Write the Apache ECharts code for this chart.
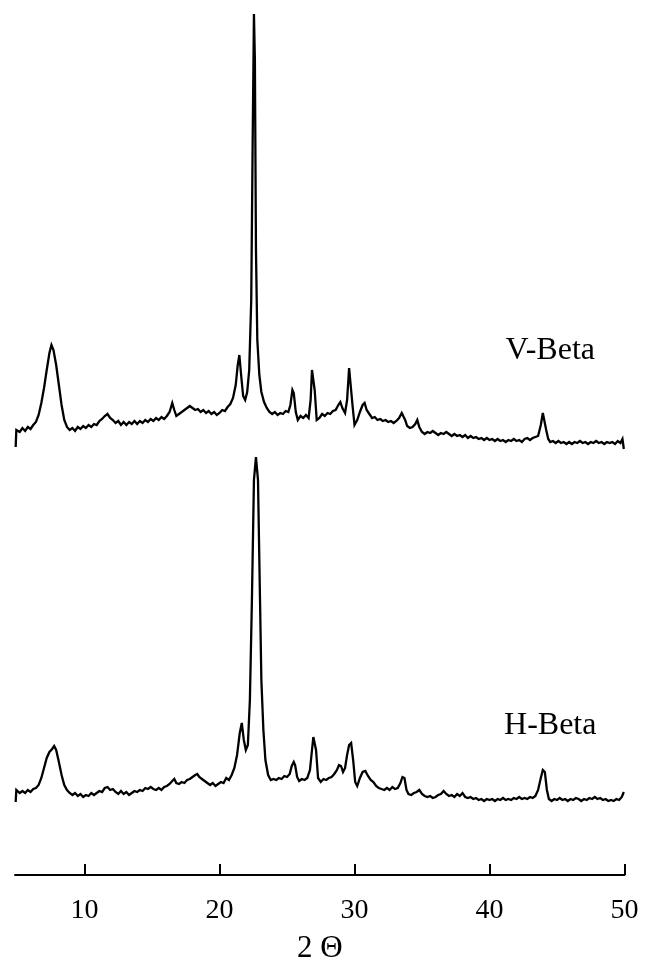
<!DOCTYPE html>
<html>
<head>
<meta charset="utf-8">
<style>
  html, body { margin: 0; padding: 0; background: #fff; }
  #chart { width: 645px; height: 965px; }
</style>
<script src="https://cdn.jsdelivr.net/npm/echarts@6/dist/echarts.min.js"></script>
</head>
<body>
<div id="chart"></div>
<script>
// X-ray diffraction patterns, [2θ (deg), intensity (a.u.)]
const vBeta = [
  [4.9,3],[4.95,20],[5.2,18],[5.4,22],[5.6,19],[5.8,23],[6.0,21],[6.2,25],[6.4,28],[6.6,35],
  [6.8,47],[7.0,62],[7.2,80],[7.4,97],[7.55,105],[7.7,100],[7.9,85],[8.1,65],[8.3,45],[8.5,30],
  [8.7,23],[8.9,20],[9.1,22],[9.3,19],[9.5,23],[9.7,21],[9.9,24],[10.1,22],[10.3,25],[10.5,23],
  [10.7,26],[10.9,25],[11.1,29],[11.3,31],[11.5,34],[11.7,36],[11.9,32],[12.1,30],[12.3,27],[12.5,29],
  [12.7,25],[12.9,28],[13.1,25],[13.3,28],[13.5,26],[13.7,29],[13.9,26],[14.1,29],[14.3,27],[14.5,30],
  [14.7,28],[14.9,31],[15.1,29],[15.3,32],[15.5,30],[15.7,33],[15.9,31],[16.1,34],[16.3,38],[16.5,47],
  [16.65,40],[16.8,34],[17.0,36],[17.2,38],[17.4,40],[17.6,42],[17.8,44],[18.0,42],[18.2,40],[18.4,41],
  [18.6,38],[18.8,40],[19.0,37],[19.2,39],[19.4,36],[19.6,38],[19.8,35],[20.0,37],[20.2,40],[20.4,39],
  [20.6,43],[20.8,46],[21.0,52],[21.2,65],[21.35,85],[21.47,95],[21.6,75],[21.75,54],[21.9,50],[22.05,58],
  [22.2,80],[22.35,150],[22.45,300],[22.55,436],[22.62,390],[22.7,200],[22.8,110],[22.95,75],[23.1,58],[23.3,48],
  [23.5,42],[23.7,38],[23.9,36],[24.1,38],[24.3,35],[24.5,37],[24.7,36],[24.9,39],[25.1,38],[25.25,45],
  [25.4,60],[25.5,57],[25.65,38],[25.8,30],[26.0,34],[26.2,32],[26.4,35],[26.6,32],[26.75,50],[26.85,80],
  [26.95,82],[27.05,60],[27.2,30],[27.4,32],[27.6,36],[27.8,34],[28.0,37],[28.2,36],[28.4,39],[28.6,40],
  [28.8,45],[28.95,48],[29.1,42],[29.3,37],[29.45,50],[29.6,82],[29.7,80],[29.85,45],[30.0,25],[30.2,30],
  [30.4,38],[30.6,45],[30.75,47],[30.9,40],[31.1,36],[31.3,32],[31.5,33],[31.7,30],[31.9,31],[32.1,29],
  [32.3,30],[32.5,28],[32.7,29],[32.9,27],[33.1,29],[33.3,32],[33.5,37],[33.6,38],[33.75,30],[33.9,24],
  [34.1,22],[34.3,23],[34.5,26],[34.65,30],[34.8,23],[35.0,18],[35.2,16],[35.4,18],[35.6,17],[35.8,19],
  [36.0,17],[36.2,15],[36.4,17],[36.6,16],[36.8,18],[37.0,16],[37.2,14],[37.4,16],[37.6,14],[37.8,15],
  [38.0,13],[38.2,15],[38.4,12],[38.6,14],[38.8,12],[39.0,13],[39.2,11],[39.4,12],[39.6,10],[39.8,12],
  [40.0,10],[40.2,11],[40.4,9],[40.6,11],[40.8,9],[41.0,10],[41.2,8],[41.4,10],[41.6,9],[41.8,11],
  [42.0,9],[42.2,10],[42.4,8],[42.6,11],[42.8,12],[43.0,10],[43.2,12],[43.4,13],[43.6,14],[43.8,25],
  [43.95,37],[44.05,35],[44.2,20],[44.35,11],[44.5,8],[44.7,9],[44.9,7],[45.1,9],[45.3,7],[45.5,8],
  [45.7,6],[45.9,8],[46.1,6],[46.3,8],[46.5,7],[46.7,9],[46.9,7],[47.1,8],[47.3,6],[47.5,8],
  [47.7,7],[47.9,9],[48.1,7],[48.3,8],[48.5,6],[48.7,8],[48.9,7],[49.1,8],[49.3,6],[49.5,9],
  [49.7,7],[49.85,11],[49.95,1]
];

const hBeta = [
  [4.9,13],[4.95,25],[5.2,22],[5.4,24],[5.6,22],[5.8,25],[6.0,23],[6.2,26],[6.4,27],[6.6,30],
  [6.8,37],[7.0,47],[7.2,57],[7.4,63],[7.6,66],[7.75,69],[7.9,65],[8.1,53],[8.3,40],[8.5,30],
  [8.7,25],[8.9,22],[9.1,20],[9.3,22],[9.5,19],[9.7,21],[9.9,18],[10.1,20],[10.3,19],[10.5,22],
  [10.7,20],[10.9,22],[11.1,24],[11.3,23],[11.5,27],[11.7,28],[11.9,25],[12.1,26],[12.3,23],[12.5,21],
  [12.7,24],[12.9,21],[13.1,23],[13.3,20],[13.5,22],[13.7,24],[13.9,23],[14.1,25],[14.3,24],[14.5,27],
  [14.7,26],[14.9,28],[15.1,26],[15.3,25],[15.5,27],[15.7,25],[15.9,28],[16.1,29],[16.3,31],[16.5,34],
  [16.65,36],[16.8,32],[17.0,31],[17.2,33],[17.4,32],[17.6,35],[17.8,36],[18.0,38],[18.2,40],[18.35,41],
  [18.5,38],[18.7,36],[18.9,34],[19.1,32],[19.3,30],[19.5,32],[19.7,29],[19.9,31],[20.1,33],[20.3,32],
  [20.5,37],[20.7,35],[20.9,40],[21.1,47],[21.3,60],[21.5,82],[21.65,92],[21.8,75],[21.95,65],[22.1,70],
  [22.25,115],[22.4,215],[22.55,335],[22.7,358],[22.85,335],[23.0,215],[23.1,135],[23.25,85],[23.4,55],[23.6,40],
  [23.8,35],[24.0,36],[24.2,35],[24.4,37],[24.6,36],[24.8,39],[25.0,38],[25.2,41],[25.35,49],[25.5,53],
  [25.6,50],[25.75,38],[25.9,34],[26.1,36],[26.3,35],[26.5,37],[26.7,45],[26.85,65],[26.95,78],[27.05,80],
  [27.15,65],[27.3,37],[27.5,33],[27.7,36],[27.9,35],[28.1,37],[28.3,38],[28.5,41],[28.7,45],[28.85,50],
  [29.0,49],[29.15,43],[29.3,47],[29.45,60],[29.6,70],[29.75,72],[29.9,55],[30.05,33],[30.2,29],[30.4,37],
  [30.6,43],[30.8,44],[31.0,39],[31.2,35],[31.4,33],[31.6,29],[31.8,27],[32.0,26],[32.2,25],[32.4,27],
  [32.6,25],[32.8,28],[33.0,26],[33.2,27],[33.4,32],[33.55,38],[33.7,37],[33.85,25],[34.0,21],[34.2,20],
  [34.4,22],[34.6,23],[34.8,25],[35.0,21],[35.2,19],[35.4,18],[35.6,19],[35.8,17],[36.0,18],[36.2,20],
  [36.4,21],[36.6,24],[36.8,21],[37.0,19],[37.2,20],[37.4,18],[37.6,21],[37.8,19],[38.0,22],[38.2,18],
  [38.4,17],[38.6,18],[38.8,16],[39.0,17],[39.2,15],[39.4,16],[39.6,14],[39.8,16],[40.0,15],[40.2,16],
  [40.4,14],[40.6,16],[40.8,15],[41.0,17],[41.2,15],[41.4,16],[41.6,15],[41.8,17],[42.0,16],[42.2,18],
  [42.4,16],[42.6,17],[42.8,16],[43.0,18],[43.2,17],[43.4,19],[43.6,25],[43.8,37],[43.95,45],[44.1,43],
  [44.25,25],[44.4,16],[44.6,14],[44.8,16],[45.0,15],[45.2,17],[45.4,15],[45.6,16],[45.8,14],[46.0,16],
  [46.2,15],[46.4,17],[46.6,16],[46.8,14],[47.0,16],[47.2,15],[47.4,17],[47.6,16],[47.8,18],[48.0,16],
  [48.2,17],[48.4,15],[48.6,16],[48.8,14],[49.0,15],[49.2,14],[49.4,16],[49.6,15],[49.8,18],[49.95,23]
];

// vertical stacking offsets of the two patterns (a.u.)
const seriesNames = ['V-Beta', 'H-Beta'];
const stackOffsets = [425, 60];
// where each sample name is written: [2θ, a.u.]
const labelAnchors = [[44.5, 524], [44.5, 149]];
const tickValues = [10, 20, 30, 40, 50];

const serif = 'Liberation Serif, Times New Roman, serif';

function shifted(data, off) {
  return data.map(p => [p[0], p[1] + off]);
}

const chart = echarts.init(document.getElementById('chart'), null, { renderer: 'canvas' });

const lineSeries = [vBeta, hBeta].map((d, i) => ({
  type: 'line',
  name: seriesNames[i],
  data: shifted(d, stackOffsets[i]),
  showSymbol: false,
  symbol: 'none',
  smooth: false,
  lineStyle: { color: '#000', width: 2.3, join: 'miter', miterLimit: 4 },
  silent: true
}));

const nameSeries = {
  type: 'scatter',
  data: labelAnchors.map((a, i) => ({ value: a, name: seriesNames[i] })),
  symbolSize: 1,
  itemStyle: { color: 'rgba(255,255,255,0)' },
  label: {
    show: true,
    position: 'inside',
    formatter: '{b}',
    color: '#000',
    opacity: 1,
    textBorderWidth: 0,
    fontFamily: serif,
    fontSize: 32
  },
  silent: true
};

chart.setOption({
  animation: false,
  backgroundColor: '#fff',
  grid: { left: 15, right: 20.5, top: 0, bottom: 90, outerBoundsMode: 'none', containLabel: false },
  xAxis: {
    type: 'value',
    min: 4.85,
    max: 50,
    name: '2 \u0398',
    nameLocation: 'middle',
    nameGap: 58,
    nameTextStyle: { color: '#000', fontFamily: serif, fontSize: 31 },
    axisLine: { show: true, onZero: false, lineStyle: { color: '#000', width: 2 } },
    axisTick: { show: true, inside: true, length: 11, customValues: tickValues, lineStyle: { color: '#000', width: 2 } },
    axisLabel: { show: true, customValues: tickValues, color: '#000', fontFamily: serif, fontSize: 28, margin: 22 },
    splitLine: { show: false }
  },
  yAxis: {
    type: 'value',
    min: 0,
    max: 875,
    show: false
  },
  series: [...lineSeries, nameSeries]
});
</script>
</body>
</html>
